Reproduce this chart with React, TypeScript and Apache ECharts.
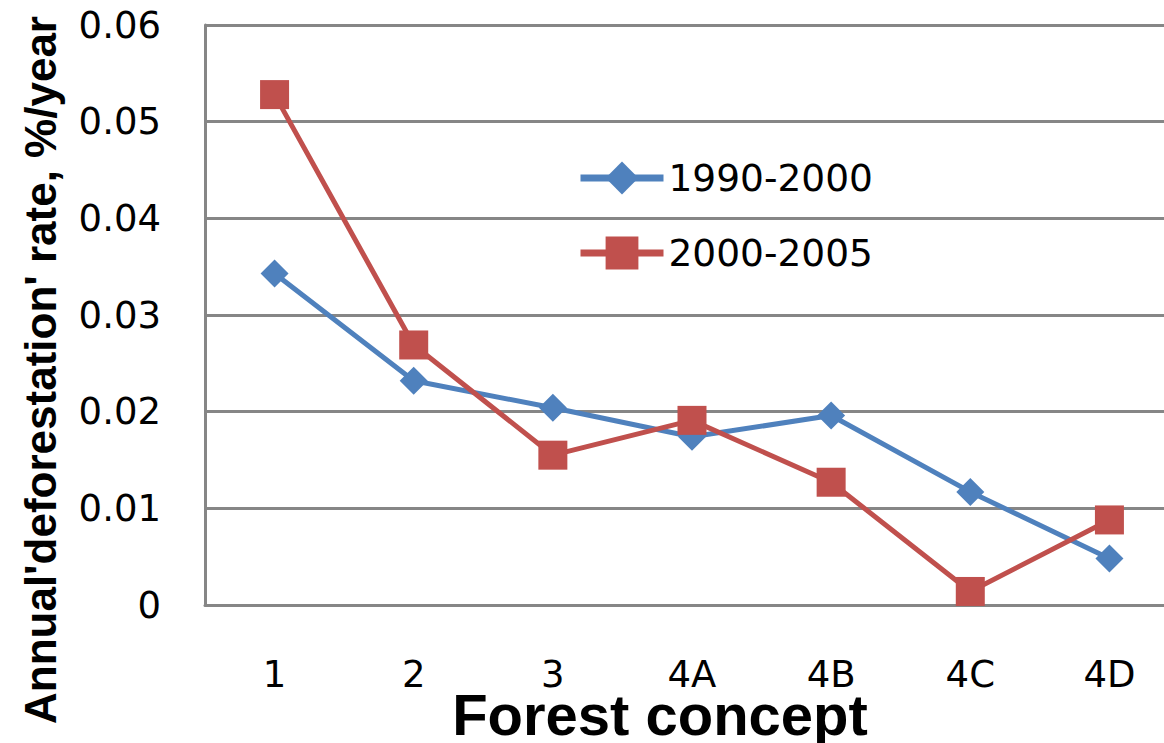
import React, { useEffect, useRef } from "react";
import * as echarts from "echarts";

const categories = ["1", "2", "3", "4A", "4B", "4C", "4D"];
const series1990 = [0.0343, 0.0232, 0.0204, 0.0174, 0.0196, 0.0117, 0.0048];
const series2000 = [0.0528, 0.0269, 0.0155, 0.0191, 0.0127, 0.0014, 0.0088];
const seriesNames = ["1990-2000", "2000-2005"];
const yTitle = "Annual'deforestation' rate, %/year";
const xTitle = "Forest concept";

const BLUE = "#4F81BD";
const RED = "#C0504D";
const GRID = "#868686";

export default function App() {
  const ref = useRef<HTMLDivElement>(null);
  useEffect(() => {
    if (!ref.current) return;
    const chart = echarts.init(ref.current, null, { renderer: "svg" });
    chart.setOption({
      animation: false,
      backgroundColor: "#ffffff",
      grid: { left: 205, top: 25, height: 580, width: 974, containLabel: false, outerBoundsMode: "none" },
      legend: {
        orient: "vertical",
        left: 577,
        top: 159,
        padding: 0,
        itemWidth: 83,
        itemHeight: 41,
        itemGap: 37,
        lineStyle: { width: 7 },
        textStyle: { fontFamily: "DejaVu Sans", fontSize: 37.5, color: "#000" },
        data: seriesNames,
      },
      graphic: [
        {
          type: "text",
          x: 40,
          y: 370,
          rotation: Math.PI / 2,
          style: {
            text: yTitle,
            font: "bold 44px 'Liberation Sans', Arial, sans-serif",
            fill: "#000",
            align: "center",
            verticalAlign: "middle",
          },
        },
        {
          type: "text",
          x: 660,
          y: 714,
          style: {
            text: xTitle,
            font: "bold 58px 'Liberation Sans', Arial, sans-serif",
            lineHeight: 44,
            fill: "#000",
            align: "center",
            verticalAlign: "middle",
          },
        },
      ],
      xAxis: {
        type: "category",
        data: categories,
        boundaryGap: true,
        axisLine: { show: true, lineStyle: { color: GRID, width: 3 } },
        axisTick: { show: false },
        axisLabel: { margin: 54, lineHeight: 30, fontFamily: "DejaVu Sans", fontSize: 37, color: "#000" },
      },
      yAxis: {
        type: "value",
        min: 0,
        max: 0.06,
        interval: 0.01,
        axisLine: { show: true, lineStyle: { color: GRID, width: 3 } },
        axisTick: { show: false },
        splitLine: { show: true, lineStyle: { color: GRID, width: 3 } },
        axisLabel: {
          margin: 44,
          fontFamily: "DejaVu Sans",
          fontSize: 37,
          color: "#000",
          formatter: (v: number) => (v === 0 ? "0" : v.toFixed(2)),
        },
      },
      series: [
        {
          name: seriesNames[0],
          type: "line",
          data: series1990,
          symbol: "diamond",
          symbolSize: 28,
          itemStyle: { color: BLUE },
          lineStyle: { color: BLUE, width: 5 },
        },
        {
          name: seriesNames[1],
          type: "line",
          data: series2000,
          symbol: "rect",
          symbolSize: 29,
          itemStyle: { color: RED },
          lineStyle: { color: RED, width: 5 },
        },
      ],
    });
    return () => chart.dispose();
  }, []);
  return (
    <div
      ref={ref}
      style={{ position: "fixed", left: 0, top: 0, width: 1164, height: 743, background: "#fff" }}
    />
  );
}
